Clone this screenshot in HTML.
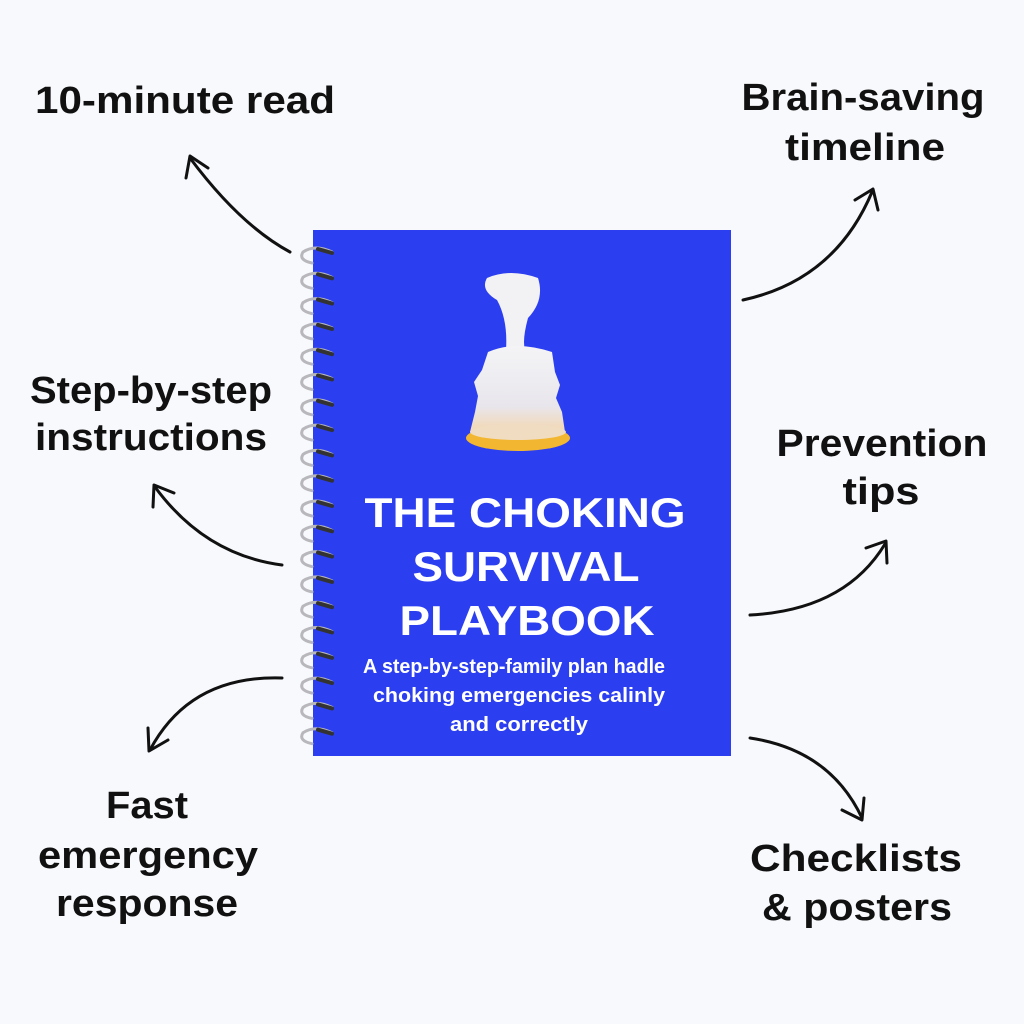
<!DOCTYPE html>
<html><head><style>
body{margin:0;background:#f8f9fc;}
svg{display:block}
.l{font-family:"Liberation Sans",sans-serif;font-weight:bold;font-size:38px;fill:#111;text-anchor:middle}
.t{font-family:"Liberation Sans",sans-serif;font-weight:bold;font-size:42px;fill:#fff;text-anchor:middle}
.s{font-family:"Liberation Sans",sans-serif;font-weight:bold;font-size:20px;fill:#fff;text-anchor:middle}
</style></head><body>
<svg width="1024" height="1024" viewBox="0 0 1024 1024">
<defs>
<linearGradient id="dev" x1="0" y1="0" x2="0" y2="1">
<stop offset="0" stop-color="#f4f4f6"/><stop offset="0.7" stop-color="#e8e6ec"/><stop offset="1" stop-color="#f3d7b0"/>
</linearGradient>
</defs>
<rect x="313" y="230" width="418" height="526" fill="#2c3ff0"/>
<g fill="none" stroke-linecap="round">
<g id="rings"></g>
</g>
<g fill="none" stroke="#111" stroke-width="3" stroke-linecap="round" stroke-linejoin="round">
<path d="M290 252 Q240 225 190 158"/><path d="M186 178 L190 156 L208 168"/>
<path d="M743 300 Q835 280 872 192"/><path d="M855 200 L873 189 L878 210"/>
<path d="M282 565 Q205 555 155 487"/><path d="M153 507 L154 485 L174 493"/>
<path d="M750 615 Q845 610 885 544"/><path d="M866 548 L886 541 L887 563"/>
<path d="M282 678 Q190 675 150 750"/><path d="M148 728 L149 751 L168 740"/>
<path d="M750 738 Q830 750 862 818"/><path d="M842 810 L862 820 L864 798"/>
</g>
<path d="M487 278 Q510 268 538 278 Q545 300 528 318 Q522 340 525 350 L506 350 Q508 320 497 300 Q480 290 487 278Z" fill="#f2f2f4"/>
<path d="M488 352 Q515 340 552 352 L555 372 L560 385 L556 398 L562 412 L565 432 L470 432 L475 412 L478 396 L474 382 L482 370Z" fill="url(#dev)"/>
<ellipse cx="518" cy="438" rx="52" ry="13" fill="#f2b630"/>
<ellipse cx="518" cy="432" rx="48" ry="8" fill="#f0dcc0"/>
<text class="t" x="525" y="527" textLength="321" lengthAdjust="spacingAndGlyphs">THE CHOKING</text>
<text class="t" x="526" y="581" textLength="227" lengthAdjust="spacingAndGlyphs">SURVIVAL</text>
<text class="t" x="527" y="635" textLength="255" lengthAdjust="spacingAndGlyphs">PLAYBOOK</text>
<text class="s" x="514" y="673" textLength="302" lengthAdjust="spacingAndGlyphs">A step-by-step-family plan hadle</text>
<text class="s" x="519" y="702" textLength="292" lengthAdjust="spacingAndGlyphs">choking emergencies calinly</text>
<text class="s" x="519" y="731" textLength="138" lengthAdjust="spacingAndGlyphs">and correctly</text>
<text class="l" x="185" y="113" textLength="300" lengthAdjust="spacingAndGlyphs">10-minute read</text>
<text class="l" x="863" y="110" textLength="243" lengthAdjust="spacingAndGlyphs">Brain-saving</text>
<text class="l" x="865" y="160" textLength="160" lengthAdjust="spacingAndGlyphs">timeline</text>
<text class="l" x="151" y="403" textLength="242" lengthAdjust="spacingAndGlyphs">Step-by-step</text>
<text class="l" x="151" y="450" textLength="232" lengthAdjust="spacingAndGlyphs">instructions</text>
<text class="l" x="882" y="456" textLength="211" lengthAdjust="spacingAndGlyphs">Prevention</text>
<text class="l" x="881" y="504" textLength="77" lengthAdjust="spacingAndGlyphs">tips</text>
<text class="l" x="147" y="818" textLength="82" lengthAdjust="spacingAndGlyphs">Fast</text>
<text class="l" x="148" y="868" textLength="220" lengthAdjust="spacingAndGlyphs">emergency</text>
<text class="l" x="147" y="916" textLength="182" lengthAdjust="spacingAndGlyphs">response</text>
<text class="l" x="856" y="871" textLength="212" lengthAdjust="spacingAndGlyphs">Checklists</text>
<text class="l" x="857" y="920" textLength="190" lengthAdjust="spacingAndGlyphs">&amp; posters</text>
</svg>
<script>
var g=document.getElementById('rings'),s='';
for(var i=0;i<20;i++){var y=250+i*25.3;
s+='<path d="M332 '+(y+2)+' Q315 '+(y-6)+' 303 '+(y+2)+' Q298 '+(y+10)+' 312 '+(y+13)+'" stroke="#b8b8bc" stroke-width="3"/>';
s+='<path d="M318 '+(y-1)+' L332 '+(y+3)+'" stroke="#333" stroke-width="4"/>';}
g.innerHTML=s;
</script>
</body></html>
